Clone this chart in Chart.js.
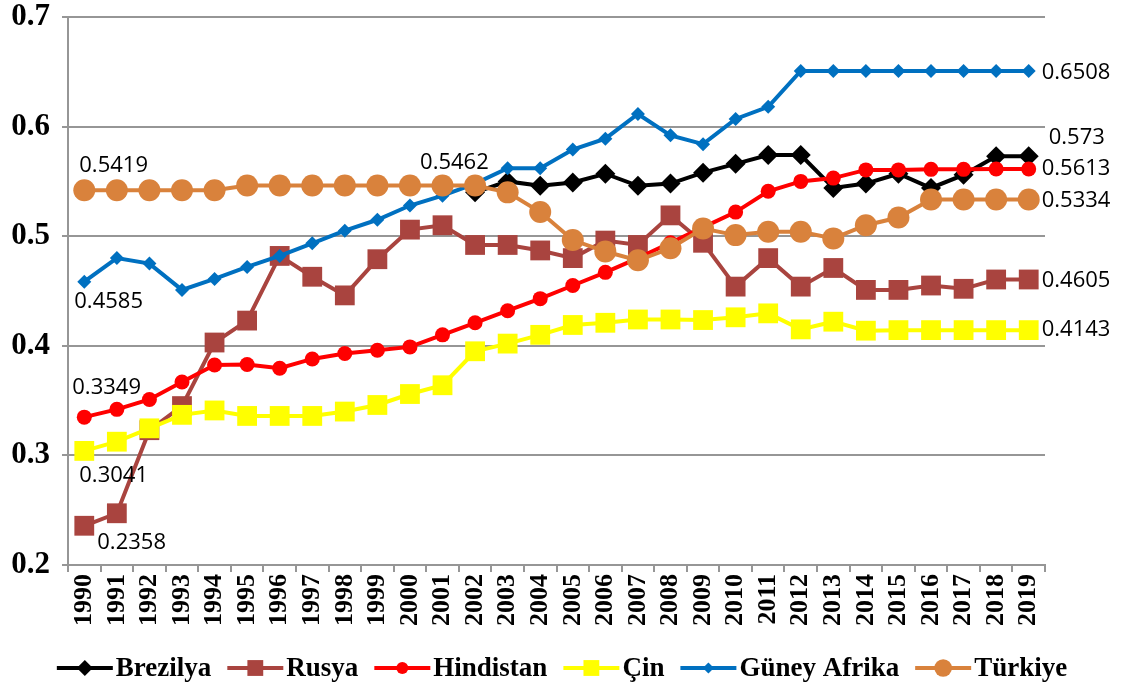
<!DOCTYPE html>
<html><head><meta charset="utf-8">
<script src="https://cdn.jsdelivr.net/npm/chart.js@4/dist/chart.umd.min.js"></script>
<style>html,body{margin:0;padding:0;background:#fff;overflow:hidden}</style>
</head><body>
<canvas id="c" width="1124" height="687"></canvas>
<script>
const years = ['1990','1991','1992','1993','1994','1995','1996','1997','1998','1999','2000','2001','2002','2003','2004','2005','2006','2007','2008','2009','2010','2011','2012','2013','2014','2015','2016','2017','2018','2019'];
const seriesNames = ['Brezilya','Rusya','Hindistan','Çin','Güney Afrika','Türkiye'];
const brezilya = [null,null,null,null,null,null,null,null,null,null,null,null,0.540,0.550,0.546,0.549,0.557,0.546,0.548,0.558,0.566,0.574,0.574,0.544,0.548,0.557,0.544,0.556,0.573,0.573];
const rusya = [0.2358,0.2472,0.323,0.345,0.403,0.423,0.482,0.463,0.446,0.479,0.506,0.510,0.492,0.492,0.487,0.480,0.496,0.492,0.519,0.494,0.454,0.480,0.454,0.471,0.451,0.451,0.455,0.452,0.4605,0.4605];
const hindistan = [0.3349,0.342,0.351,0.367,0.3825,0.383,0.3795,0.388,0.393,0.396,0.399,0.410,0.421,0.432,0.443,0.455,0.467,0.480,0.494,0.508,0.522,0.541,0.550,0.553,0.5605,0.5605,0.561,0.561,0.5613,0.5613];
const cin = [0.3041,0.3125,0.3247,0.337,0.341,0.336,0.336,0.336,0.340,0.346,0.356,0.364,0.395,0.402,0.410,0.419,0.421,0.424,0.424,0.4235,0.426,0.4296,0.415,0.422,0.4138,0.4143,0.4143,0.4143,0.4143,0.4143];
const guneyAfrika = [0.4585,0.480,0.475,0.451,0.461,0.472,0.482,0.4935,0.505,0.515,0.528,0.537,0.548,0.562,0.562,0.579,0.589,0.6115,0.592,0.584,0.607,0.618,0.6508,0.6508,0.6508,0.6508,0.6508,0.6508,0.6508,0.6508];
const turkiye = [0.5419,0.5419,0.5419,0.5419,0.5419,0.5462,0.5462,0.5462,0.5462,0.5462,0.5462,0.5462,0.5462,0.540,0.522,0.4965,0.486,0.478,0.489,0.507,0.501,0.504,0.504,0.498,0.510,0.517,0.5334,0.5334,0.5334,0.5334];
const yMin = 0.2, yMax = 0.7, yStep = 0.1;

// which points carry a value label (series index, category index) + placement
const labelSpecs = [
  {s:5, i:0, dx:-5, dy:-25}, {s:4, i:0, dx:-10, dy:20}, {s:2, i:0, dx:-12, dy:-29},
  {s:3, i:0, dx:-5, dy:25}, {s:1, i:0, dx:13, dy:17}, {s:5, i:12, dx:-55, dy:-23},
  {s:4, i:29, dx:13, dy:2}, {s:0, i:29, dx:20, dy:-18}, {s:2, i:29, dx:13, dy:0},
  {s:5, i:29, dx:13, dy:1}, {s:1, i:29, dx:13, dy:1}, {s:3, i:29, dx:13, dy:0}
];

const styles = [
  {color:'#000000', pointStyle:'rectRot', r:10, order:6},
  {color:'#A9443F', pointStyle:'rect', r:14, order:5},
  {color:'#FF0000', pointStyle:'circle', r:7.5, order:4},
  {color:'#FFFF00', pointStyle:'rect', r:14, order:3},
  {color:'#0070C0', pointStyle:'rectRot', r:7, order:2},
  {color:'#D9823C', pointStyle:'circle', r:11, order:1}
];
const allData = [brezilya, rusya, hindistan, cin, guneyAfrika, turkiye];

const datasets = seriesNames.map((n, k) => ({
  label: n, data: allData[k], order: styles[k].order,
  borderColor: styles[k].color, backgroundColor: styles[k].color,
  pointBackgroundColor: styles[k].color, pointBorderColor: styles[k].color,
  pointStyle: styles[k].pointStyle, pointRadius: styles[k].r, pointHoverRadius: styles[k].r,
  pointBorderWidth: 0, borderWidth: 4, tension: 0, spanGaps: false
}));

const labelFont = '22px "Open Sans", "Noto Sans", sans-serif';
const serifBold = '"Liberation Serif", "Times New Roman", serif';

const valueLabels = {
  id: 'valueLabels',
  afterDatasetsDraw(chart) {
    const ctx = chart.ctx;
    ctx.save();
    ctx.font = labelFont;
    ctx.fillStyle = '#000';
    ctx.textAlign = 'left';
    ctx.textBaseline = 'middle';
    labelSpecs.forEach(sp => {
      const meta = chart.getDatasetMeta(sp.s);
      const pt = meta.data[sp.i];
      const v = chart.data.datasets[sp.s].data[sp.i];
      ctx.fillText(String(v), pt.x + sp.dx, pt.y + sp.dy);
    });
    ctx.restore();
  }
};

const customLegend = {
  id: 'customLegend',
  afterDraw(chart) {
    const ctx = chart.ctx;
    ctx.save();
    ctx.font = 'bold 27px ' + serifBold;
    const sampleW = 56, gapT = 3, gapItem = 16, y = 668;
    const widths = chart.data.datasets.map(d => ctx.measureText(d.label).width);
    const total = widths.reduce((a, w) => a + sampleW + gapT + w, 0) + gapItem * (widths.length - 1);
    let x = (chart.width - total) / 2;
    chart.data.datasets.forEach((d, k) => {
      ctx.strokeStyle = d.borderColor; ctx.lineWidth = 4;
      ctx.beginPath(); ctx.moveTo(x, y); ctx.lineTo(x + sampleW, y); ctx.stroke();
      ctx.fillStyle = d.borderColor;
      Chart.helpers.drawPoint(ctx, {pointStyle: d.pointStyle, radius: d.pointRadius * 0.8, rotation: 0, borderWidth: 0}, x + sampleW / 2, y);
      ctx.fillStyle = '#000'; ctx.textAlign = 'left'; ctx.textBaseline = 'middle';
      ctx.fillText(d.label, x + sampleW + gapT, y + 1);
      x += sampleW + gapT + widths[k] + gapItem;
    });
    ctx.restore();
  }
};

new Chart(document.getElementById('c'), {
  type: 'line',
  data: { labels: years, datasets },
  plugins: [valueLabels, customLegend],
  options: {
    responsive: false, animation: false,
    layout: { padding: { left: 0, top: 0, right: 79, bottom: 0 } },
    plugins: { legend: { display: false }, tooltip: { enabled: false } },
    scales: {
      x: {
        type: 'category', offset: true,
        afterFit(s) { s.height = 122; },
        grid: { display: true, drawOnChartArea: false, drawTicks: true, tickLength: 7, offset: true, color: '#969696', lineWidth: 2 },
        border: { display: true, color: '#969696', width: 2 },
        ticks: { minRotation: 90, maxRotation: 90, autoSkip: false, padding: 2, color: '#000', font: { family: serifBold, weight: 'bold', size: 26 } }
      },
      y: {
        min: yMin, max: yMax,
        afterFit(s) { s.width = 68; s.paddingTop = 17; s.paddingBottom = 0; },
        grid: { color: '#969696', lineWidth: 2, drawTicks: true, tickLength: 6 },
        border: { display: true, color: '#969696', width: 2 },
        ticks: { stepSize: yStep, padding: 12, color: '#000', font: { family: serifBold, weight: 'bold', size: 31 }, callback: v => Number(v).toFixed(1) }
      }
    }
  }
});
</script>
</body></html>
